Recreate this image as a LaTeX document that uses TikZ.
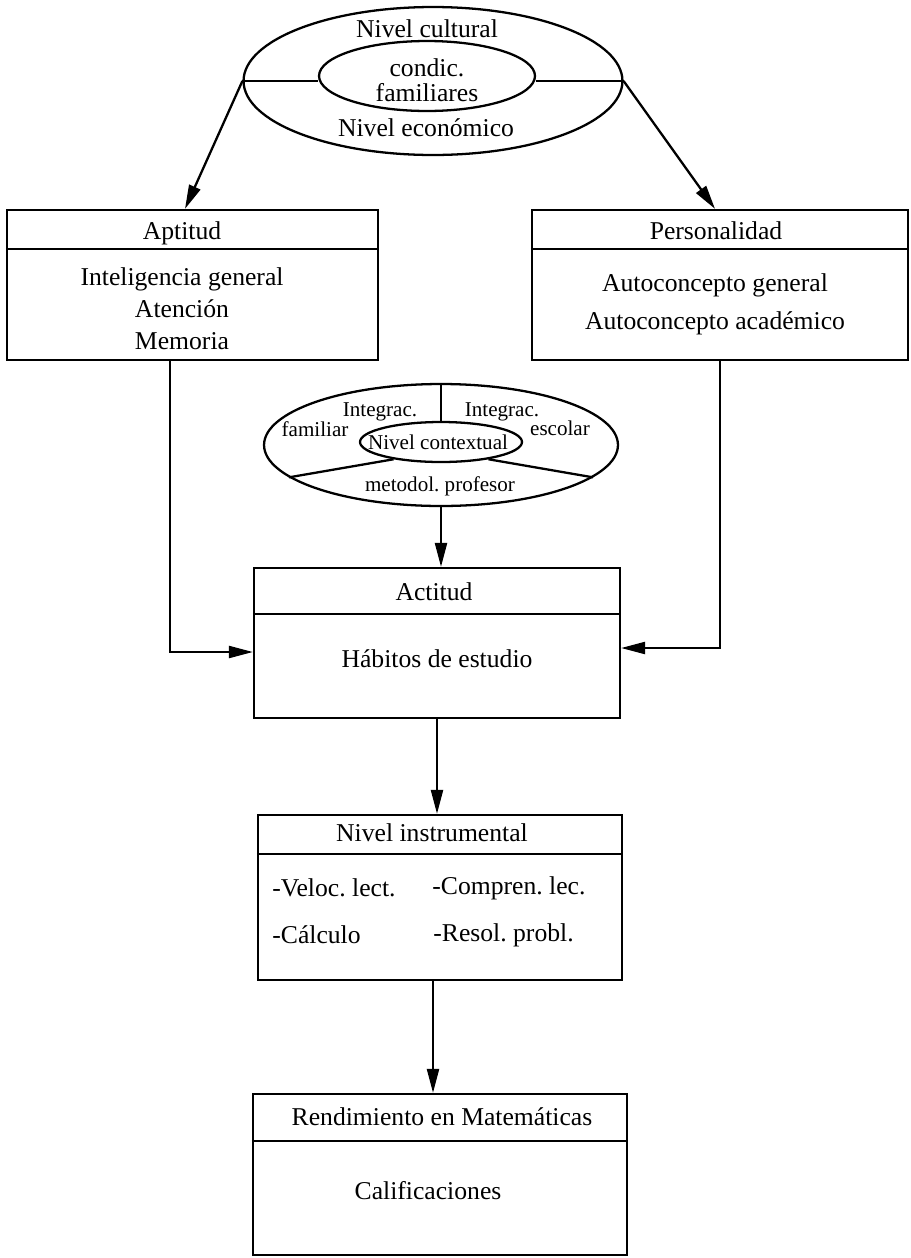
\documentclass[tikz,border=0pt]{standalone}
\usepackage{fontspec}
\setmainfont{Liberation Serif}
\frenchspacing
\usetikzlibrary{shapes.geometric, arrows.meta, positioning, calc}

\begin{document}
\begin{tikzpicture}[
    x=0.02cm, y=-0.02cm,
    box/.style={rectangle, draw=black, line width=1.3pt, inner sep=0pt},
    oval/.style={ellipse, draw=black, line width=1.3pt, inner sep=0pt},
    txt/.style={inner sep=0pt, font=\fontsize{14.6}{17}\selectfont},
    smalltxt/.style={inner sep=0pt, font=\fontsize{12}{14}\selectfont},
    line/.style={line width=1.3pt},
    arrow/.style={line width=1.3pt, -{Triangle[length=0.48cm, width=0.24cm]}}
]
\useasboundingbox (0,0) rectangle (910,1258);

% Nodes
\node [oval, minimum width=7.58cm, minimum height=2.96cm] (fam) at (433,81) {};
\node [oval, minimum width=4.32cm, minimum height=1.4cm] (famin) at (427,76) {};
\node [txt, align=center, font=\fontsize{14.6}{14.2}\selectfont] (famT) at (427,80) {condic.\\familiares};
\node [txt] (cult) at (427,29) {Nivel cultural};
\node [txt] (econ) at (426,128) {Nivel económico};

\node [box, minimum width=7.42cm, minimum height=3.0cm] (apt) at (192.5,285) {};
\node [txt] (aptT) at (182,233) {Aptitud};
\node [txt, align=center, font=\fontsize{14.6}{18.2}\selectfont] (aptB) at (182,309) {Inteligencia general\\Atención\\Memoria};

\node [box, minimum width=7.52cm, minimum height=3.0cm] (per) at (720,285) {};
\node [txt] (perT) at (716,231) {Personalidad};
\node [txt, align=center, font=\fontsize{14.6}{21.6}\selectfont] (perB) at (715,304) {Autoconcepto general\\Autoconcepto académico};

\node [oval, minimum width=7.08cm, minimum height=2.44cm] (ctx) at (441,445) {};
\node [oval, minimum width=3.24cm, minimum height=0.8cm] (ctxin) at (441,442) {};
\node [smalltxt] (ctxT) at (438,442) {Nivel contextual};
\node [smalltxt] (intf) at (380,412) {Integrac.};
\node [smalltxt] (fmlr) at (315,429) {familiar};
\node [smalltxt] (inte) at (502,412) {Integrac.};
\node [smalltxt] (escl) at (560,428) {escolar};
\node [smalltxt] (metd) at (440,486) {metodol. profesor};

\node [box, minimum width=7.32cm, minimum height=3.0cm] (act) at (437,643) {};
\node [txt] (actT) at (434,592) {Actitud};
\node [txt] (actB) at (437,659) {Hábitos de estudio};

\node [box, minimum width=7.28cm, minimum height=3.3cm] (ins) at (440,897.5) {};
\node [txt] (insT) at (432,833) {Nivel instrumental};
\node [txt, anchor=west] (vel) at (272,888) {-Veloc. lect.};
\node [txt, anchor=west] (com) at (432,888) {-Compren. lec.};
\node [txt, anchor=west] (cal) at (272,935) {-Cálculo};
\node [txt, anchor=west] (res) at (433,935) {-Resol. probl.};

\node [box, minimum width=7.48cm, minimum height=3.22cm] (ren) at (440,1174.5) {};
\node [txt] (renT) at (442,1117) {Rendimiento en Matemáticas};
\node [txt] (renB) at (428,1191) {Calificaciones};

% Dividers
\draw [line] (fam.west) -- (famin.west |- fam.west);
\draw [line] (fam.east) -- (famin.east |- fam.east);
\draw [line] (ctx.north) -- (ctxin.north);
\draw [line] (ctx.192) -- (ctxin.200);
\draw [line] (ctx.348) -- (ctxin.340);
\draw [line] ([yshift=-0.8cm]apt.north west) -- ([yshift=-0.8cm]apt.north east);
\draw [line] ([yshift=-0.8cm]per.north west) -- ([yshift=-0.8cm]per.north east);
\draw [line] ([yshift=-0.94cm]act.north west) -- ([yshift=-0.94cm]act.north east);
\draw [line] ([yshift=-0.8cm]ins.north west) -- ([yshift=-0.8cm]ins.north east);
\draw [line] ([yshift=-0.96cm]ren.north west) -- ([yshift=-0.96cm]ren.north east);

% Connections
\draw [arrow] (fam.west) -- ([xshift=-0.15cm]apt.north);
\draw [arrow] (fam.east) -- ([xshift=-0.1cm]per.north);
\draw [arrow] ([xshift=-0.45cm]apt.south) |- ([yshift=-0.18cm]act.west);
\draw [arrow] (per.south) |- ([yshift=-0.1cm]act.east);
\draw [arrow] (ctx.south) -- (ctx.south |- act.north);
\draw [arrow] (act.south) -- (act.south |- ins.north);
\draw [arrow] ([xshift=-0.14cm]ins.south) -- ([xshift=-0.14cm]ins.south |- ren.north);
\end{tikzpicture}
\end{document}
